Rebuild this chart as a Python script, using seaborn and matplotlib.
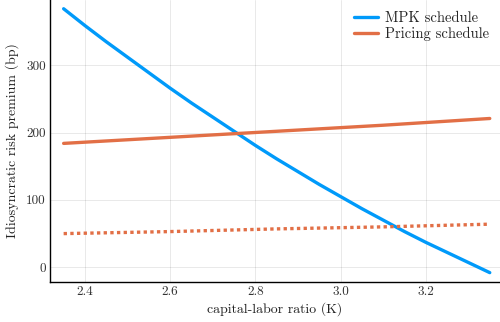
import matplotlib
matplotlib.use("Agg")
import matplotlib.pyplot as plt
import seaborn as sns
import pandas as pd

# capital-labor ratio grid and risk-premium schedules (basis points)
k_mpk = [2.35, 2.40, 2.45, 2.50, 2.55, 2.60, 2.65, 2.70, 2.75, 2.80, 2.85,
         2.90, 2.95, 3.00, 3.05, 3.10, 3.15, 3.20, 3.25, 3.30, 3.35]
mpk_premium = [384, 359, 335, 312, 289, 266, 244, 223, 202, 181, 161,
               142, 123, 105, 87, 70, 53, 37, 22, 7, -8]

k_pricing = [2.35, 2.60, 2.85, 3.10, 3.35]
pricing_premium = [184, 193, 202, 211, 221]
pricing_premium_low = [50, 53, 57, 60, 64]

x_ticks = [2.4, 2.6, 2.8, 3.0, 3.2]
y_ticks = [0, 100, 200, 300]

sns.set_theme(style="white")
plt.rcParams["font.family"] = ["cmr10", "DejaVu Serif"]
plt.rcParams["mathtext.fontset"] = "cm"
plt.rcParams["axes.formatter.use_mathtext"] = True

blue = "#009AFA"
orange = "#E26F46"

fig = plt.figure(figsize=(5.0, 3.22), dpi=100)
ax = fig.add_axes([0.10, 0.124, 0.90, 0.876])

df_mpk = pd.DataFrame({"K": k_mpk, "premium": mpk_premium})
df_pr = pd.DataFrame({"K": k_pricing, "premium": pricing_premium})
df_pr_low = pd.DataFrame({"K": k_pricing, "premium": pricing_premium_low})

sns.lineplot(data=df_mpk, x="K", y="premium", ax=ax, color=blue, lw=2.4,
             label="MPK schedule")
sns.lineplot(data=df_pr, x="K", y="premium", ax=ax, color=orange, lw=2.4,
             label="Pricing schedule")
sns.lineplot(data=df_pr_low, x="K", y="premium", ax=ax, color=orange, lw=2.4,
             linestyle=(0, (1, 1)), dash_capstyle="butt", label="_nolegend_")

ax.set_xlim(2.318, 3.374)
ax.set_ylim(-22, 397)
ax.set_xticks(x_ticks)
ax.set_yticks(y_ticks)
ax.set_xticklabels([f"{t:.1f}" for t in x_ticks])
ax.set_yticklabels([str(t) for t in y_ticks])

ax.grid(True, color="black", alpha=0.1, lw=0.6)
for side in ("top", "right"):
    ax.spines[side].set_visible(False)
for side in ("left", "bottom"):
    ax.spines[side].set_color("black")
    ax.spines[side].set_linewidth(1.0)
ax.tick_params(direction="in", length=4, width=0.8, color="black",
               labelsize=9.5, labelcolor="#333333", pad=3)

ax.set_xlabel("capital-labor ratio (K)", fontsize=10, color="#222222",
              labelpad=3)
ax.set_ylabel("Idiosyncratic risk premium (bp)", fontsize=10, color="#222222",
              labelpad=5)

leg = ax.legend(loc="upper right", frameon=False, fontsize=10.5,
                handlelength=1.6, handletextpad=0.5, borderaxespad=0.35,
                labelspacing=0.15)

fig.savefig("out.png", dpi=100)
